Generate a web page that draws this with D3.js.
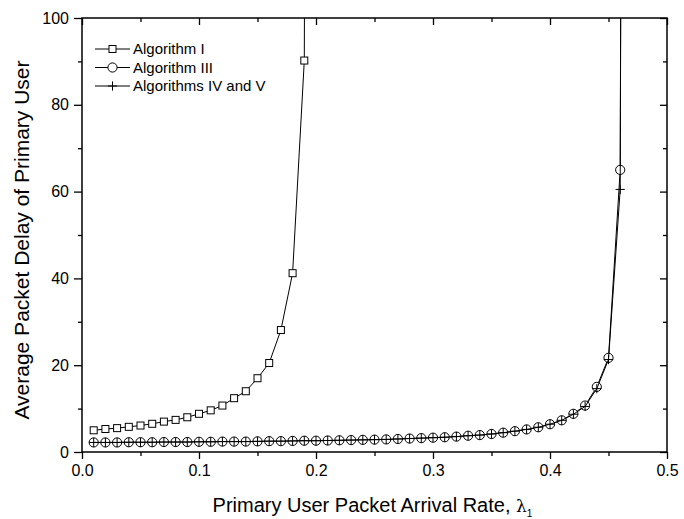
<!DOCTYPE html>
<html>
<head>
<meta charset="utf-8">
<script src="https://cdn.jsdelivr.net/npm/d3@7"></script>
<style>
  body { margin: 0; background: #fff; }
  svg { display: block; font-family: "Liberation Sans", Arial, sans-serif; }
  .axis path { display: none; }
  .axis line { stroke: #000; stroke-width: 1.3; }
  .axis text { font-size: 16px; fill: #000; }
</style>
</head>
<body>
<svg width="684" height="519"></svg>
<script>
// rate values (x) and delays (y)
var rateI = [0.01, 0.02, 0.03, 0.04, 0.05, 0.06, 0.07, 0.08, 0.09, 0.10,
             0.11, 0.12, 0.13, 0.14, 0.15, 0.16, 0.17, 0.18, 0.19, 0.20];
var delayI = [5.0, 5.3, 5.5, 5.8, 6.1, 6.5, 7.0, 7.4, 8.0, 8.8,
              9.6, 10.7, 12.4, 14.0, 17.0, 20.5, 28.1, 41.2, 90.2, 1000];

var rateIII = [0.01, 0.02, 0.03, 0.04, 0.05, 0.06, 0.07, 0.08, 0.09, 0.10,
               0.11, 0.12, 0.13, 0.14, 0.15, 0.16, 0.17, 0.18, 0.19, 0.20,
               0.21, 0.22, 0.23, 0.24, 0.25, 0.26, 0.27, 0.28, 0.29, 0.30,
               0.31, 0.32, 0.33, 0.34, 0.35, 0.36, 0.37, 0.38, 0.39, 0.40,
               0.41, 0.42, 0.43, 0.44, 0.45, 0.46, 0.47];
var delayIII = [2.2, 2.2, 2.2, 2.25, 2.25, 2.25, 2.3, 2.3, 2.3, 2.35,
                2.35, 2.4, 2.4, 2.4, 2.45, 2.5, 2.5, 2.55, 2.6, 2.6,
                2.65, 2.7, 2.75, 2.8, 2.85, 2.9, 3.0, 3.1, 3.2, 3.3,
                3.4, 3.55, 3.75, 3.9, 4.15, 4.45, 4.8, 5.2, 5.7, 6.4,
                7.3, 8.8, 10.7, 15.0, 21.7, 65.0, 1000];
var delayIV = [2.2, 2.2, 2.2, 2.25, 2.25, 2.25, 2.3, 2.3, 2.3, 2.35,
               2.35, 2.4, 2.4, 2.4, 2.45, 2.5, 2.5, 2.55, 2.6, 2.6,
               2.65, 2.7, 2.75, 2.8, 2.85, 2.9, 3.0, 3.1, 3.2, 3.3,
               3.4, 3.55, 3.75, 3.9, 4.15, 4.45, 4.8, 5.2, 5.7, 6.4,
               7.3, 8.7, 10.5, 14.6, 21.3, 60.5, 1000];

var xMajor = [0, 0.1, 0.2, 0.3, 0.4, 0.5];
var xMinor = [0.05, 0.15, 0.25, 0.35, 0.45];
var yMajor = [0, 20, 40, 60, 80, 100];
var yMinor = [10, 30, 50, 70, 90];
var legendNames = ["Algorithm I", "Algorithm III", "Algorithms IV and V"];

var margin = {top: 18, right: 17, bottom: 67, left: 82};
var svgWidth = 684, svgHeight = 519;
var chartWidth = svgWidth - margin.left - margin.right;
var chartHeight = svgHeight - margin.top - margin.bottom;

var xScale = d3.scaleLinear().domain([0, 0.5]).range([0, chartWidth]);
var yScale = d3.scaleLinear().domain([0, 100]).range([chartHeight, 0]);

var svg = d3.select("svg");
var chart = svg.append("g")
    .attr("transform", `translate(${margin.left}, ${margin.top})`);

chart.append("clipPath").attr("id", "plot-clip")
  .append("rect")
    .attr("width", chartWidth)
    .attr("height", chartHeight);

// axes: outward ticks on left/bottom, inward on top/right
chart.append("g").attr("class", "axis")
    .attr("transform", `translate(0, ${chartHeight})`)
    .call(d3.axisBottom(xScale).tickValues(xMajor).tickSize(7).tickPadding(6)
        .tickFormat(d3.format(".1f")));
chart.append("g").attr("class", "axis")
    .attr("transform", `translate(0, ${chartHeight})`)
    .call(d3.axisBottom(xScale).tickValues(xMinor).tickSize(4).tickFormat(""));
chart.append("g").attr("class", "axis")
    .call(d3.axisBottom(xScale).tickValues(xMajor).tickSize(7).tickFormat(""));
chart.append("g").attr("class", "axis")
    .call(d3.axisBottom(xScale).tickValues(xMinor).tickSize(4).tickFormat(""));

chart.append("g").attr("class", "axis")
    .call(d3.axisLeft(yScale).tickValues(yMajor).tickSize(8).tickPadding(5));
chart.append("g").attr("class", "axis")
    .call(d3.axisLeft(yScale).tickValues(yMinor).tickSize(4).tickFormat(""));
chart.append("g").attr("class", "axis")
    .attr("transform", `translate(${chartWidth}, 0)`)
    .call(d3.axisLeft(yScale).tickValues(yMajor).tickSize(7).tickFormat(""));
chart.append("g").attr("class", "axis")
    .attr("transform", `translate(${chartWidth}, 0)`)
    .call(d3.axisLeft(yScale).tickValues(yMinor).tickSize(4).tickFormat(""));

// frame
chart.append("rect")
    .attr("width", chartWidth)
    .attr("height", chartHeight)
    .attr("fill", "none")
    .attr("stroke", "#000")
    .attr("stroke-width", 1.5);

var valueline = d3.line()
    .x(d => xScale(d[0]))
    .y(d => yScale(d[1]));

var dataI = rateI.map((r, i) => [r, delayI[i]]);
var dataIII = rateIII.map((r, i) => [r, delayIII[i]]);
var dataIV = rateIII.map((r, i) => [r, delayIV[i]]);

var plot = chart.append("g").attr("clip-path", "url(#plot-clip)");

function drawSquare(g, cx, cy) {
  g.append("rect")
      .attr("x", cx - 3.5).attr("y", cy - 3.5)
      .attr("width", 7).attr("height", 7)
      .attr("fill", "#fff").attr("stroke", "#000").attr("stroke-width", 1);
}
function drawCircle(g, cx, cy) {
  g.append("circle")
      .attr("cx", cx).attr("cy", cy).attr("r", 4.6)
      .attr("fill", "#fff").attr("stroke", "#000").attr("stroke-width", 1);
}
function drawPlus(g, cx, cy) {
  g.append("path")
      .attr("d", `M${cx - 4.6},${cy}H${cx + 4.6}M${cx},${cy - 4.6}V${cy + 4.6}`)
      .attr("stroke", "#000").attr("stroke-width", 1).attr("fill", "none");
}

// Algorithm I
plot.append("path").datum(dataI)
    .attr("d", valueline).attr("fill", "none").attr("stroke", "#000").attr("stroke-width", 1);
dataI.forEach(d => drawSquare(plot, xScale(d[0]), yScale(d[1])));

// Algorithm III
plot.append("path").datum(dataIII)
    .attr("d", valueline).attr("fill", "none").attr("stroke", "#000").attr("stroke-width", 1);
dataIII.forEach(d => drawCircle(plot, xScale(d[0]), yScale(d[1])));

// Algorithms IV and V
plot.append("path").datum(dataIV)
    .attr("d", valueline).attr("fill", "none").attr("stroke", "#000").attr("stroke-width", 1);
dataIV.forEach(d => drawPlus(plot, xScale(d[0]), yScale(d[1])));

// legend
var legend = chart.append("g").attr("transform", "translate(13, 31)");
legendNames.forEach(function(name, i) {
  var row = legend.append("g").attr("transform", `translate(0, ${i * 18.5})`);
  row.append("line").attr("x1", 0).attr("x2", 35).attr("y1", 0).attr("y2", 0)
      .attr("stroke", "#000").attr("stroke-width", 1);
  if (i == 0) drawSquare(row, 17.5, 0);
  if (i == 1) drawCircle(row, 17.5, 0);
  if (i == 2) drawPlus(row, 17.5, 0);
  row.append("text").attr("x", 38).attr("y", 5)
      .attr("font-size", 15).text(name);
});

// axis titles
svg.append("text")
    .attr("x", margin.left + chartWidth / 2 - 2)
    .attr("y", 512)
    .attr("text-anchor", "middle")
    .attr("font-size", 20)
    .call(t => {
      t.append("tspan").text("Primary User Packet Arrival Rate, ");
      t.append("tspan").attr("font-family", "DejaVu Serif").attr("font-size", 17).text("λ");
      t.append("tspan").attr("font-size", 10).attr("dy", 5).text("1");
    });

svg.append("text")
    .attr("transform", `translate(29, ${margin.top + chartHeight / 2 + 5}) rotate(-90)`)
    .attr("text-anchor", "middle")
    .attr("font-size", 21)
    .text("Average Packet Delay of Primary User");
</script>
</body>
</html>
